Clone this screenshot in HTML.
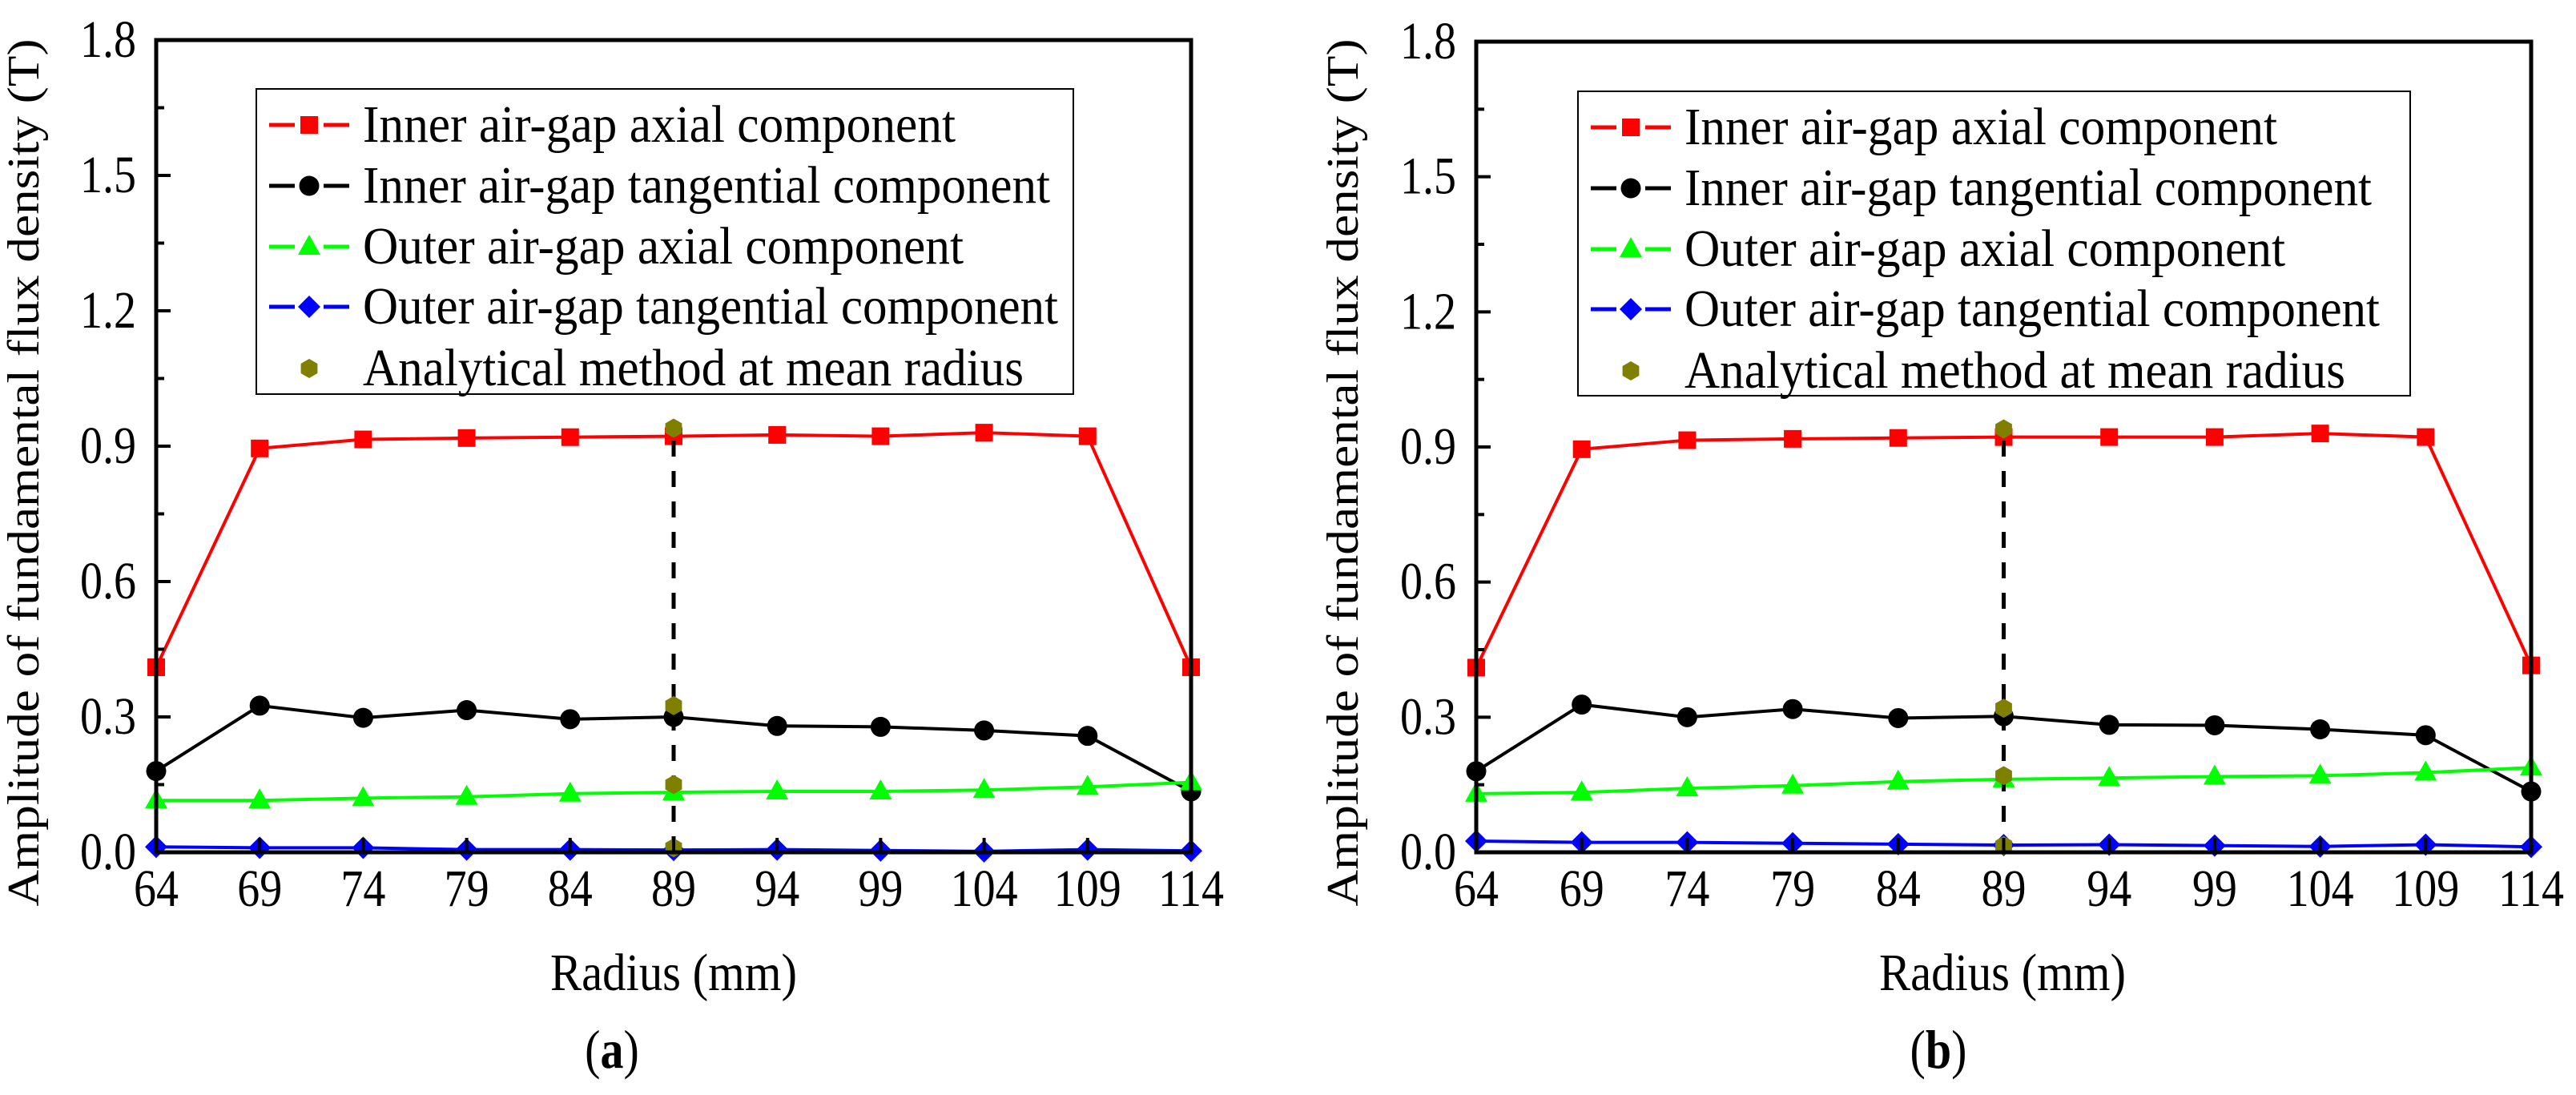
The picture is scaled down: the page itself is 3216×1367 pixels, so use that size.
<!DOCTYPE html>
<html><head><meta charset="utf-8"><style>
html,body{margin:0;padding:0;background:#fff;}
svg{display:block;}
text{font-family:"Liberation Serif","Times New Roman",serif;}
</style></head><body>
<svg id="chart" width="3216" height="1367" viewBox="0 0 3216 1367" xmlns="http://www.w3.org/2000/svg"></svg>
<script>
const radii = [64,69,74,79,84,89,94,99,104,109,114];
const yTicks = [0,0.3,0.6,0.9,1.2,1.5,1.8];
const yTickLabels = ["0.0","0.3","0.6","0.9","1.2","1.5","1.8"];
const seriesNames = ["Inner air-gap axial component","Inner air-gap tangential component","Outer air-gap axial component","Outer air-gap tangential component","Analytical method at mean radius"];
const aInnerAxial = [0.41,0.895,0.915,0.918,0.92,0.922,0.925,0.922,0.93,0.922,0.41];
const aInnerTang = [0.18,0.325,0.298,0.315,0.295,0.30,0.28,0.278,0.27,0.258,0.135];
const aOuterAxial = [0.115,0.115,0.12,0.123,0.13,0.133,0.135,0.135,0.138,0.145,0.155];
const aOuterTang = [0.012,0.01,0.01,0.006,0.006,0.005,0.006,0.004,0.002,0.006,0.003];
const aAnalytical = [0.94,0.325,0.15,0.01];
const bInnerAxial = [0.41,0.895,0.915,0.918,0.92,0.922,0.922,0.922,0.93,0.922,0.415];
const bInnerTang = [0.18,0.328,0.30,0.318,0.298,0.302,0.283,0.282,0.273,0.26,0.135];
const bOuterAxial = [0.13,0.133,0.142,0.148,0.157,0.162,0.165,0.168,0.17,0.177,0.188];
const bOuterTang = [0.025,0.022,0.022,0.02,0.018,0.016,0.017,0.015,0.013,0.017,0.012];
const bAnalytical = [0.94,0.32,0.17,0.015];
const meanRadius = 89;

const NS="http://www.w3.org/2000/svg";
const svg=document.getElementById('chart');
const FONT='"Liberation Serif", "Times New Roman", serif';
function mk(tag,attrs,parent){const e=document.createElementNS(NS,tag);for(const k in attrs)e.setAttribute(k,attrs[k]);(parent||svg).appendChild(e);return e;}
function txt(parent,x,y,str,size,anchor,len){
  const g=mk('g',{transform:`translate(${x},${y}) scale(1,1.17)`},parent);
  const a={x:0,y:0,'font-size':size,'text-anchor':anchor,'font-family':FONT};
  if(len){a.textLength=len;a.lengthAdjust='spacingAndGlyphs';}
  const t=mk('text',a,g);
  t.textContent=str;
  return t;
}

function marker(g,kind,cx,cy,color){
  let e;
  if(kind==='square') e=mk('rect',{x:cx-11,y:cy-11,width:22,height:22,fill:color},g);
  else if(kind==='circle') e=mk('circle',{cx:cx,cy:cy,r:12.5,fill:color},g);
  else if(kind==='triangle') e=mk('polygon',{points:`${cx},${cy-15} ${cx+14},${cy+10} ${cx-14},${cy+10}`,fill:color},g);
  else if(kind==='diamond') e=mk('polygon',{points:`${cx},${cy-14} ${cx+14},${cy} ${cx},${cy+14} ${cx-14},${cy}`,fill:color},g);
  else { const p=[];for(let i=0;i<6;i++){const a=Math.PI/6+i*Math.PI/3;p.push((cx+12*Math.cos(a)).toFixed(1)+','+(cy+12*Math.sin(a)).toFixed(1));}
    e=mk('polygon',{points:p.join(' '),fill:color},g);}
  return e;
}

function panel(id,L,R,T,B,series,analytical,ytitleX,xtitleX,capX,cap,leg){
  const g=mk('g',{});
  
  
  const xs=v=>L+(v-radii[0])/(radii[radii.length-1]-radii[0])*(R-L);
  const ys=v=>B-(v/1.8)*(B-T);
  const colors=['#ff0000','#000000','#00ff00','#0000ff'];
  const kinds=['square','circle','triangle','diamond'];
  const names=['inner-axial','inner-tangential','outer-axial','outer-tangential'];
  series.forEach((vals,si)=>{
    const sg=mk('g',{},g);
    
    
    const pl=mk('polyline',{points:vals.map((v,i)=>xs(radii[i])+','+ys(v)).join(' '),fill:'none',stroke:colors[si],'stroke-width':4},sg);
    
    
    vals.forEach((v,i)=>{
      const m=marker(sg,kinds[si],xs(radii[i]),ys(v),colors[si]);
      
      
    });
  });
  const dl=mk('line',{x1:xs(meanRadius),x2:xs(meanRadius),y1:B,y2:ys(analytical[0]),stroke:'#000','stroke-width':5,'stroke-dasharray':'20,18'},g);
  
  
  analytical.forEach(v=>{
    const m=marker(g,'hex',xs(meanRadius),ys(v),'#808000');
    
    
  });
  const fr=mk('rect',{x:L,y:T,width:R-L,height:B-T,fill:'none',stroke:'#000','stroke-width':5},g);
  
  
  yTicks.forEach((v,i)=>{
    const y=ys(v);
    mk('line',{x1:L,x2:L+18,y1:y,y2:y,stroke:'#000','stroke-width':4},g);
    if(i<yTicks.length-1){const ym=ys(v+0.15);mk('line',{x1:L,x2:L+10,y1:ym,y2:ym,stroke:'#000','stroke-width':4},g);}
    const t=txt(g,L-25,y+21,yTickLabels[i],56,'end');
    
    
  });
  radii.forEach(r=>{
    const x=xs(r);
    mk('line',{x1:x,x2:x,y1:B,y2:B-18,stroke:'#000','stroke-width':4},g);
    const t=txt(g,x,B+67,String(r),56,'middle');
    
    
  });
  const yt=mk('text',{x:0,y:0,'font-size':56,'font-family':FONT,'text-anchor':'middle',textLength:1083,lengthAdjust:'spacingAndGlyphs',transform:`translate(${ytitleX},590) rotate(-90)`},g);
  yt.textContent='Amplitude of fundamental flux density (T)';
  
  
  const xt=txt(g,xtitleX,1236,'Radius (mm)',56,'middle',308);
  
  
  const cg=mk('g',{transform:`translate(${capX},1333) scale(1,1.17)`},g);
  const ct=mk('text',{x:0,y:0,'font-size':58,'font-family':FONT,'text-anchor':'middle'},cg);
  ct.innerHTML='(<tspan font-weight="bold">'+cap+'</tspan>)';
  
  
  const lg=mk('g',{},g);
  
  
  mk('rect',{x:leg.x,y:leg.y,width:leg.w,height:leg.h,fill:'#fff',stroke:'#000','stroke-width':2},lg);
  const rowY=[45,121,197,272,349];
  const lens=[740,858,750,868,825];
  seriesNames.forEach((n,i)=>{
    const y=leg.y+rowY[i];
    const e=mk('g',{},lg);
    
    
    if(i<4){
      mk('line',{x1:leg.x+16,x2:leg.x+48,y1:y,y2:y,stroke:colors[i],'stroke-width':5},e);
      mk('line',{x1:leg.x+84,x2:leg.x+116,y1:y,y2:y,stroke:colors[i],'stroke-width':5},e);
      marker(e,kinds[i],leg.x+66,y,colors[i]);
    } else marker(e,'hex',leg.x+66,y,'#808000');
    txt(e,leg.x+133,y+21,n,56,'start',lens[i]);
  });
}
panel('a',195,1487,50,1064,[aInnerAxial,aInnerTang,aOuterAxial,aOuterTang],aAnalytical,48,841,764,'a',{x:320,y:111,w:1020,h:381});
panel('b',1843,3160,52,1064,[bInnerAxial,bInnerTang,bOuterAxial,bOuterTang],bAnalytical,1695,2500,2420,'b',{x:1970,y:114,w:1039,h:380});
</script>
</body></html>
